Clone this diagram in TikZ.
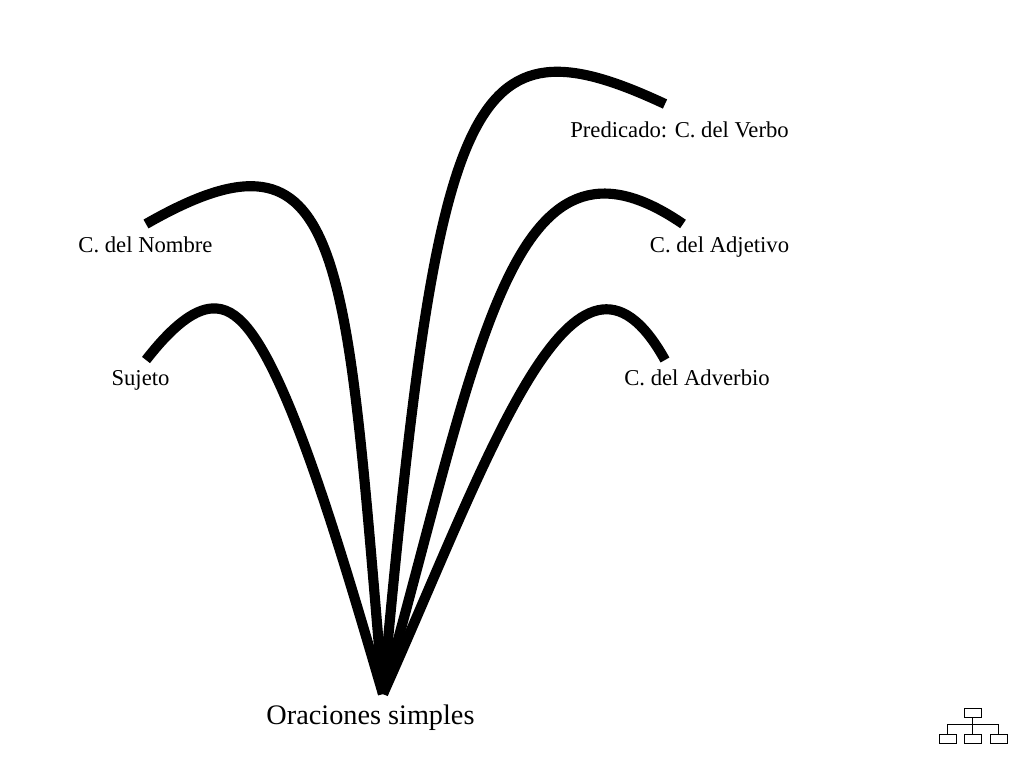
\documentclass[tikz,border=0pt]{standalone}
\usepackage{fontspec}
\setmainfont{Liberation Serif}
\usetikzlibrary{positioning}
\tikzset{
  rama/.style={line width=7.6pt},
  etiqueta/.style={font=\fontsize{17}{18}\selectfont,inner sep=0pt},
  caja/.style={draw,line width=0.75pt,minimum width=12.75pt,minimum height=6.75pt,inner sep=0pt}
}
\begin{document}
\begin{tikzpicture}[x=0.75pt,y=-0.75pt]
\useasboundingbox (0,0) rectangle (1024,768);
\coordinate (R) at (383,694);
\coordinate (M) at (243,323);
\coordinate (A1) at (146,360);
\coordinate (A2) at (146,224);
\coordinate (B1) at (665,104);
\coordinate (B2) at (683,224);
\coordinate (B3) at (665,360);

\draw[rama] (R) .. controls (345,565) and (290,372) .. (M) .. controls (222,301) and (195,297) .. (A1);
\draw[rama] (R) .. controls (345,250) and (345,110) .. (A2);
\draw[rama] (R) .. controls (438,90) and (468,12) .. (B1);
\draw[rama] (R) .. controls (480,350) and (510,105) .. (B2);
\draw[rama] (R) .. controls (490,455) and (575,198) .. (B3);

\node[etiqueta,anchor=base] (N1) at (140.5,385) {Sujeto};
\node[etiqueta,anchor=base] (N2) at (145.5,252) {C. del Nombre};
\node[etiqueta,anchor=base] (N3) at (679.5,137) {Predicado: C. del Verbo};
\node[etiqueta,anchor=base] (N4) at (719.5,252) {C. del Adjetivo};
\node[etiqueta,anchor=base] (N5) at (697,385) {C. del Adverbio};
\node[etiqueta,anchor=base,font=\fontsize{21.2}{24}\selectfont] (N0) at (370.5,724) {Oraciones simples};

\node[caja] (T) at (972.5,712.5) {};
\node[caja] (H1) at (947.5,738.5) {};
\node[caja] (H2) at (972.5,738.5) {};
\node[caja] (H3) at (998.5,738.5) {};
\draw[line width=0.75pt] (T.south) -- (H2.north);
\draw[line width=0.75pt] (H1.north) -- ++(0,-9) -| (H3.north);
\end{tikzpicture}
\end{document}
